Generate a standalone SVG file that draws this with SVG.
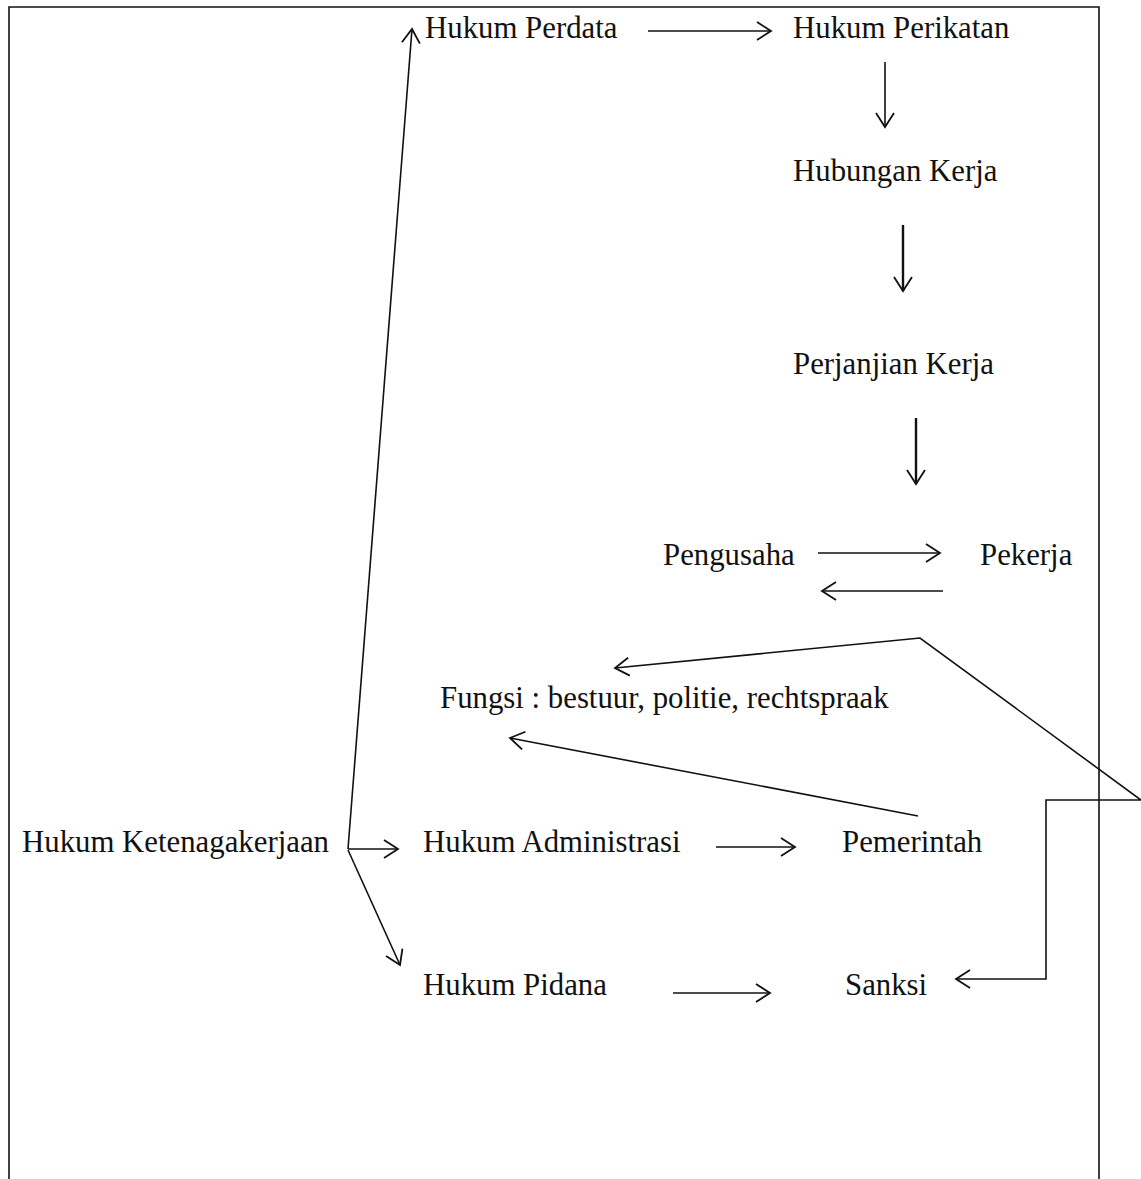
<svg xmlns="http://www.w3.org/2000/svg" width="1141" height="1179" viewBox="0 0 1141 1179">
<style>
text{font-family:"Liberation Serif","Times New Roman",serif;font-size:30.8px;fill:#111}
.c{fill:none;stroke:#111;stroke-width:1.6}
.t{stroke-width:2.4}
</style>
<defs>
<marker id="a" markerUnits="userSpaceOnUse" markerWidth="18" markerHeight="20" refX="15" refY="10" orient="auto-start-reverse" viewBox="0 0 18 20">
<path d="M1,1 L15,10 L1,19" fill="none" stroke="#111" stroke-width="1.8"/>
</marker>
</defs>
<rect x="0" y="0" width="1141" height="1179" fill="#fff"/>
<path class="c" d="M9,1179 V7 H1099 V1179"/>
<g id="hukum-perdata"><text x="425" y="38">Hukum Perdata</text></g>
<g id="hukum-perikatan"><text x="793" y="38">Hukum Perikatan</text></g>
<g id="hubungan-kerja"><text x="793" y="181">Hubungan Kerja</text></g>
<g id="perjanjian-kerja"><text x="793" y="374">Perjanjian Kerja</text></g>
<g id="pengusaha"><text x="663" y="565">Pengusaha</text></g>
<g id="pekerja"><text x="980" y="565">Pekerja</text></g>
<g id="fungsi"><text x="440" y="708">Fungsi : bestuur, politie, rechtspraak</text></g>
<g id="hukum-ketenagakerjaan"><text x="22" y="852">Hukum Ketenagakerjaan</text></g>
<g id="hukum-administrasi"><text x="423" y="852">Hukum Administrasi</text></g>
<g id="pemerintah"><text x="842" y="852">Pemerintah</text></g>
<g id="hukum-pidana"><text x="423" y="995">Hukum Pidana</text></g>
<g id="sanksi"><text x="845" y="995">Sanksi</text></g>
<g id="connectors">
<line class="c" x1="648" y1="31" x2="771" y2="31" marker-end="url(#a)"/>
<line class="c" x1="885" y1="62" x2="885" y2="127" marker-end="url(#a)"/>
<line class="c t" x1="903" y1="225" x2="903" y2="291" marker-end="url(#a)"/>
<line class="c t" x1="916" y1="418" x2="916" y2="484" marker-end="url(#a)"/>
<line class="c" x1="818" y1="553" x2="940" y2="553" marker-end="url(#a)"/>
<line class="c" x1="943" y1="591" x2="822" y2="591" marker-end="url(#a)"/>
<path class="c" d="M615,668 L920,638 L1141,800 L1046,800 L1046,979 L956,979" marker-start="url(#a)" marker-end="url(#a)"/>
<line class="c" x1="918" y1="816" x2="510" y2="738" marker-end="url(#a)"/>
<line class="c" x1="716" y1="847" x2="795" y2="847" marker-end="url(#a)"/>
<line class="c" x1="673" y1="993" x2="770" y2="993" marker-end="url(#a)"/>
<line class="c" x1="348" y1="849" x2="398" y2="849" marker-end="url(#a)"/>
<line class="c" x1="348" y1="850" x2="400" y2="965" marker-end="url(#a)"/>
<line class="c" x1="348" y1="849" x2="412" y2="29" marker-end="url(#a)"/>
</g>
</svg>
